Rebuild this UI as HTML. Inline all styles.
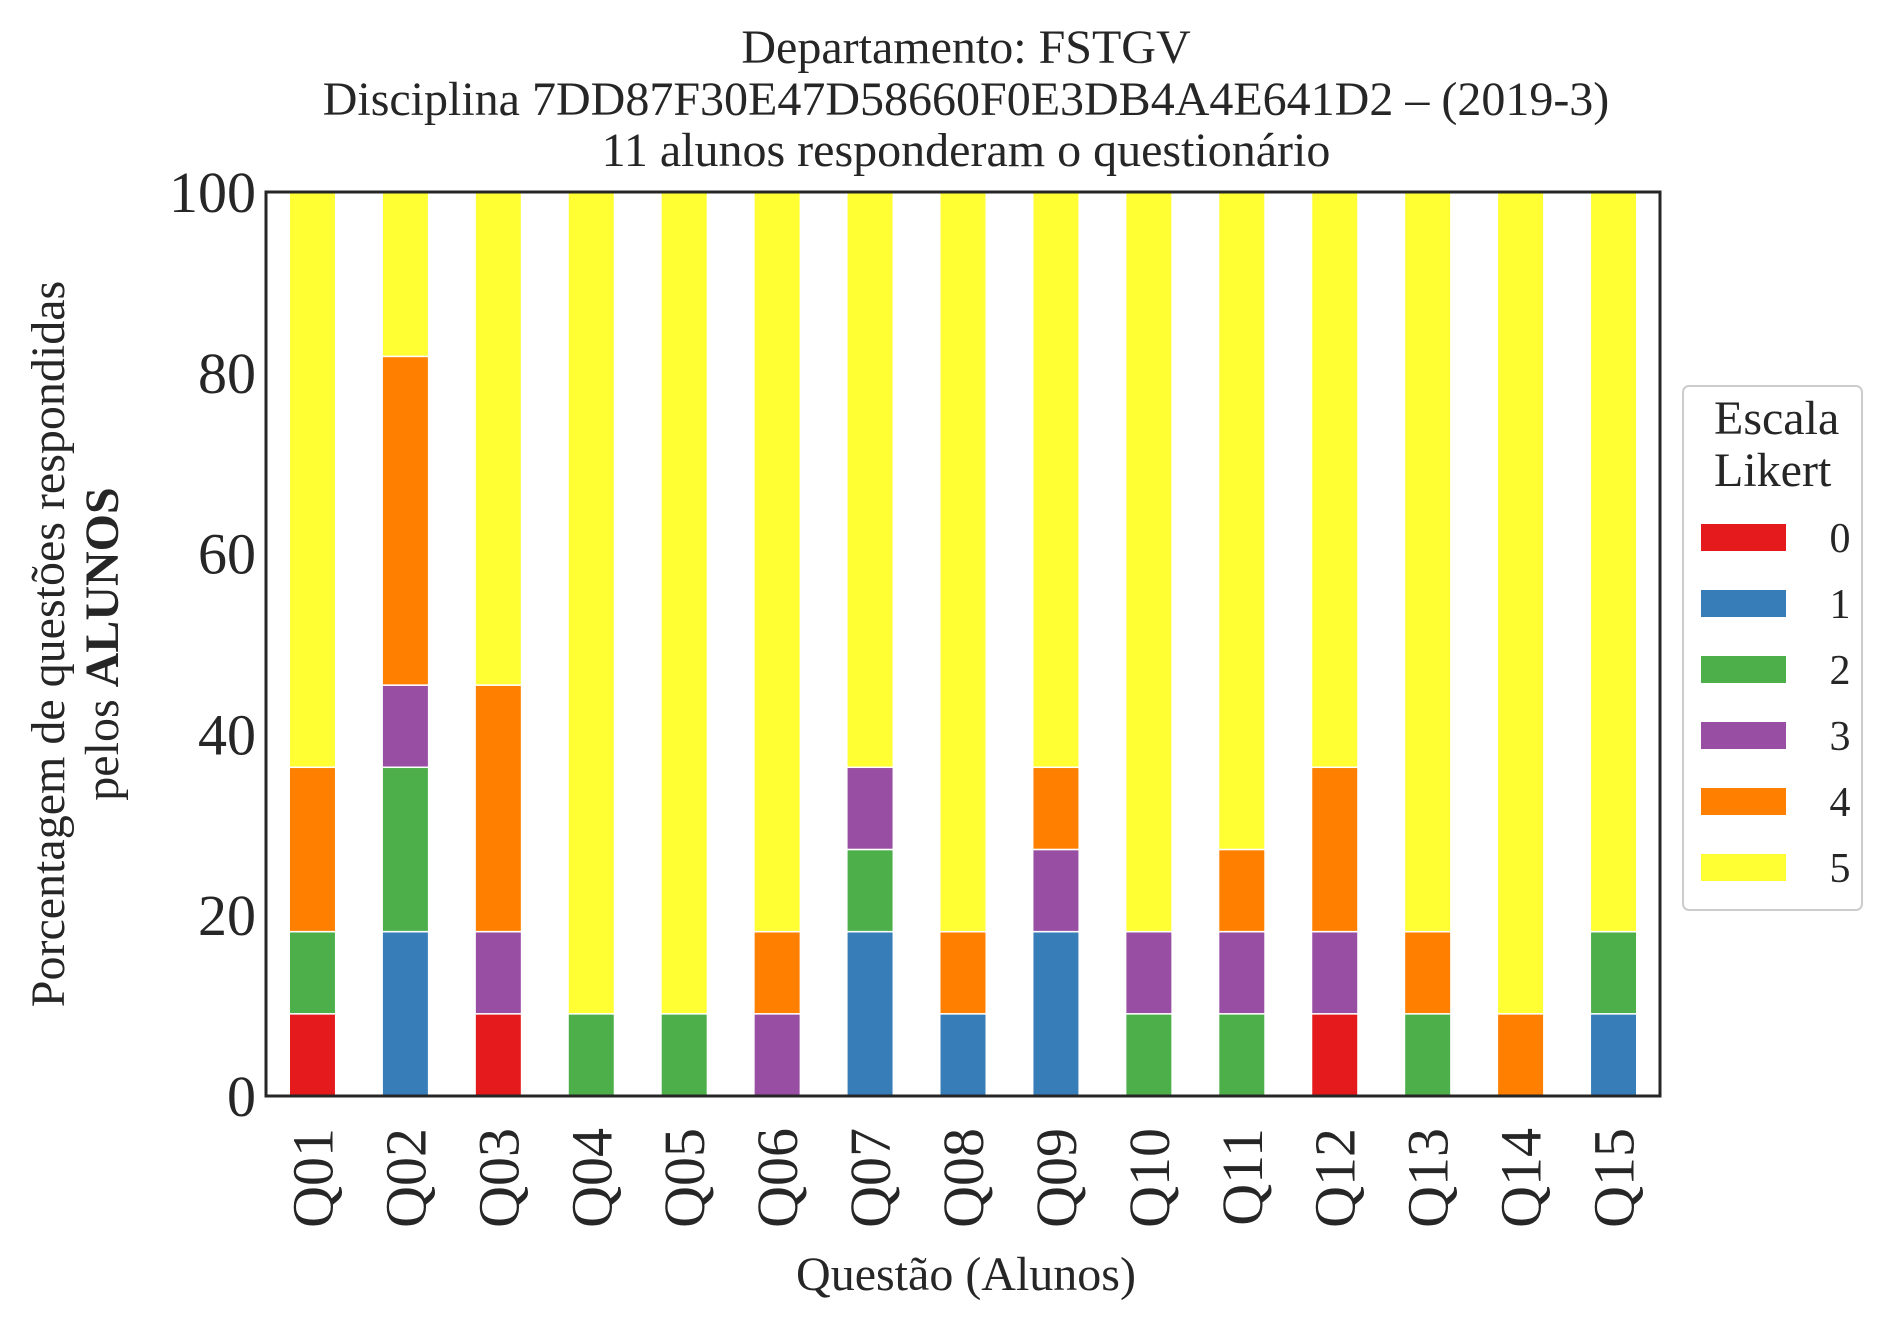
<!DOCTYPE html>
<html><head><meta charset="utf-8"><style>
html,body{margin:0;padding:0;background:#fff}
svg{display:block;font-family:"Liberation Serif",serif;fill:#262626}
</style></head><body>
<svg id="chart" width="1892" height="1323" viewBox="0 0 1892 1323">
<g font-size="48" text-anchor="middle">
<text x="966" y="63">Departamento: FSTGV</text>
<text x="966" y="115">Disciplina 7DD87F30E47D58660F0E3DB4A4E641D2 – (2019-3)</text>
<text x="966" y="166">11 alunos responderam o questionário</text>
</g>
<g id="bars"></g>
<g id="yticks"></g>
<g id="xticks"></g>
<rect x="266" y="192" width="1394" height="904" fill="none" stroke="#262626" stroke-width="3"/>
<text transform="translate(64,644) rotate(-90)" text-anchor="middle" font-size="48"><tspan x="0" dy="0">Porcentagem de questões respondidas</tspan><tspan x="0" dy="54">pelos <tspan font-weight="bold">ALUNOS</tspan></tspan></text>
<text x="966" y="1290" text-anchor="middle" font-size="48">Questão (Alunos)</text>
<g>
<rect x="1683" y="386" width="179" height="524" rx="6" fill="#fff" stroke="#ccc" stroke-width="2"/>
<text x="1714" y="434" font-size="48">Escala</text>
<text x="1714" y="486" font-size="48">Likert</text>
<g id="legend-items"></g>
</g>
</svg>
<script>
const categories=["Q01","Q02","Q03","Q04","Q05","Q06","Q07","Q08","Q09","Q10","Q11","Q12","Q13","Q14","Q15"];
const levels=["0","1","2","3","4","5"];
const colors=["#e41a1c","#377eb8","#4daf4a","#984ea3","#ff7f00","#ffff33"];
const total=11;
const s0=[1,0,1,0,0,0,0,0,0,0,0,1,0,0,0];
const s1=[0,2,0,0,0,0,2,1,2,0,0,0,0,0,1];
const s2=[1,2,0,1,1,0,1,0,0,1,1,0,1,0,1];
const s3=[0,1,1,0,0,1,1,0,1,1,1,1,0,0,0];
const s4=[2,4,3,0,0,1,0,1,1,0,1,2,1,1,0];
const s5=[7,2,6,10,10,9,7,9,7,9,8,7,9,10,9];
const yTicks=[0,20,40,60,80,100];
const series=[s0,s1,s2,s3,s4,s5];
const NS="http://www.w3.org/2000/svg";
const L=266,R=1660,T=192,B=1096;
const slot=(R-L)/categories.length;
const x=i=>L+slot*(i+0.5);
const y=v=>B-(v/100)*(B-T);
const bars=document.getElementById('bars');
categories.forEach((c,i)=>{
  let cum=0;
  series.forEach((s,k)=>{
    const v=s[i]/total*100;
    if(v<=0)return;
    const r=document.createElementNS(NS,'rect');
    r.setAttribute('x',x(i)-slot/4);
    r.setAttribute('width',slot/2);
    r.setAttribute('y',y(cum+v));
    r.setAttribute('height',y(cum)-y(cum+v));
    r.setAttribute('fill',colors[k]);
    r.setAttribute('stroke','#fff');
    r.setAttribute('stroke-width','1.5');
    
    
    bars.appendChild(r);
    cum+=v;
  });
});
const yt=document.getElementById('yticks');
yTicks.forEach(t=>{
  const e=document.createElementNS(NS,'text');
  e.setAttribute('x',256);e.setAttribute('y',y(t)+20);
  e.setAttribute('text-anchor','end');e.setAttribute('font-size','58');
  e.textContent=t;
  
  
  yt.appendChild(e);
});
const xt=document.getElementById('xticks');
categories.forEach((c,i)=>{
  const e=document.createElementNS(NS,'text');
  e.setAttribute('transform','translate('+(x(i)+20)+',1128) rotate(-90)');
  e.setAttribute('text-anchor','end');e.setAttribute('font-size','58');
  e.textContent=c;
  
  
  xt.appendChild(e);
});
const lg=document.getElementById('legend-items');
levels.forEach((lv,k)=>{
  const yy=524+k*66;
  const r=document.createElementNS(NS,'rect');
  r.setAttribute('x',1701);r.setAttribute('y',yy);r.setAttribute('width',85);r.setAttribute('height',27);
  r.setAttribute('fill',colors[k]);
  
  
  lg.appendChild(r);
  const t=document.createElementNS(NS,'text');
  t.setAttribute('x',1840);t.setAttribute('y',yy+28);t.setAttribute('text-anchor','middle');t.setAttribute('font-size','42');
  t.textContent=lv;
  
  
  lg.appendChild(t);
});
</script>
</body></html>
